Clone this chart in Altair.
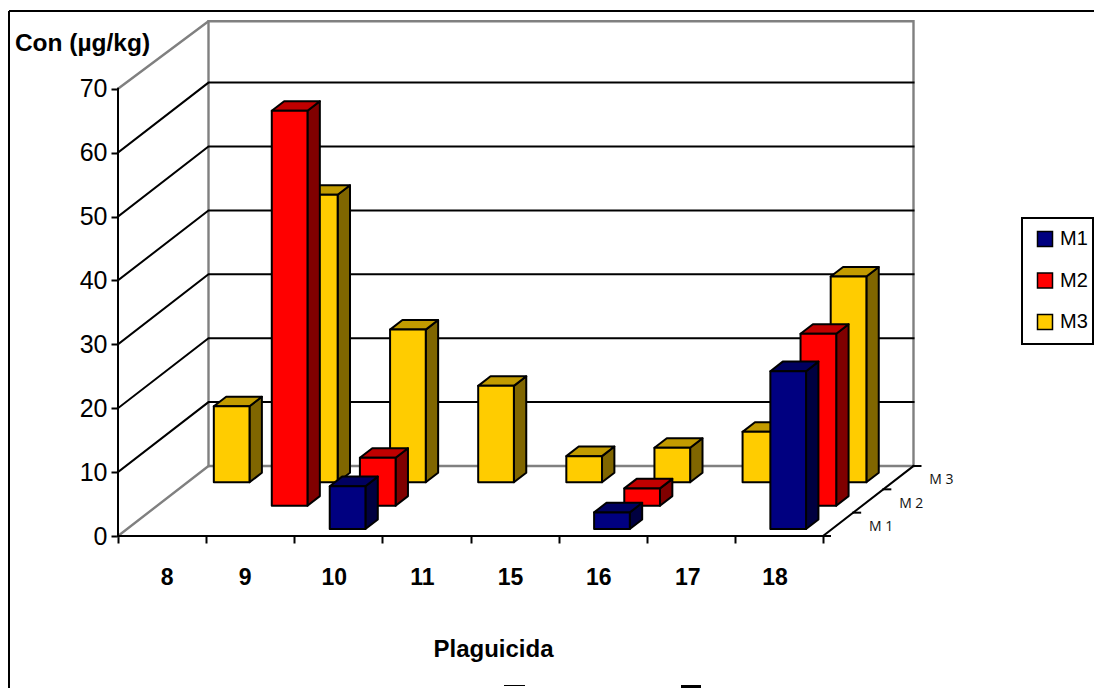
import altair as alt
import pandas as pd

categories = ["8", "9", "10", "11", "15", "16", "17", "18"]
series = ["M1", "M2", "M3"]
m1 = [None, None, 6.7, None, None, 2.6, None, 24.7]
m2 = [None, 61.8, 7.5, None, None, 2.7, None, 26.9]
m3 = [11.9, 45.0, 23.9, 15.1, 4.1, 5.4, 7.9, 32.2]
y_ticks = [0, 10, 20, 30, 40, 50, 60, 70]
label_nudge = [5, -5, -4, -4, -4, -4, -3, -4]
face_colors = {
    "M1": ("#000080", "#000060", "#000040"),
    "M2": ("#FF0000", "#C00000", "#800000"),
    "M3": ("#FFCC00", "#C29B00", "#806600"),
}

# projection constants
PXX, PXY = 88.125, 6.39
X0, Y0 = 118, 536
DX = 90.5 / PXX / 3
DY = 70 / PXY / 3
GAP, BW = 0.30, 0.405
DF, DW = 0.3, 0.41
WALL_TOP = 69.6
VIEW_L, VIEW_T = 9, 11
W, H = 1085, 677
xd = [(VIEW_L - X0) / PXX, (VIEW_L + W - X0) / PXX]
yd = [(Y0 - (VIEW_T + H)) / PXY, (Y0 - VIEW_T) / PXY]
xs = alt.Scale(domain=xd, nice=False, zero=False)
ys = alt.Scale(domain=yd, nice=False, zero=False)

faces = []
fid = 0


def add_face(color, pts):
    global fid
    for p in pts:
        faces.append({"id": fid, "fill": color, "x": p[0], "y": p[1], "y2": p[2]})
    fid += 1


for depth, (name, vals) in reversed(list(enumerate(zip(series, [m1, m2, m3])))):
    front, top_c, side = face_colors[name]
    for i, v in enumerate(vals):
        if v is None:
            continue
        x0 = i + GAP + (depth + DF) * DX
        x1 = x0 + BW
        b = (depth + DF) * DY
        t = b + v
        d_x, d_y = DW * DX, DW * DY
        add_face(side, [(x1, b, t), (x1 + d_x, b + d_y, t + d_y)])
        add_face(top_c, [(x0, t, t), (x0 + d_x, t, t + d_y), (x1, t, t + d_y), (x1 + d_x, t + d_y, t + d_y)])
        add_face(front, [(x0, b, t), (x1, b, t)])
faces = pd.DataFrame(faces)

# walls, grid and axis lines
lines = []
lid = 0


def add_line(group, pts):
    global lid
    for k, p in enumerate(pts):
        lines.append({"id": lid, "group": group, "k": k, "x": p[0], "y": p[1]})
    lid += 1


BX, BY = 3 * DX, 3 * DY
for v in y_ticks[1:-1]:
    add_line("grid", [(0, v), (BX, v + BY), (8 + BX, v + BY)])
add_line("wall", [(0, 70), (BX, WALL_TOP + BY), (8 + BX, WALL_TOP + BY), (8 + BX, BY), (BX, BY), (0, 0)])
add_line("wall", [(BX, WALL_TOP + BY), (BX, BY)])
add_line("axis", [(0, 0), (0, 70)])
add_line("axis", [(0, 0), (8, 0), (8 + BX, BY)])
for d in range(0, 4):
    add_line("axis", [(8 + d * DX, d * DY), (8 + d * DX + 7 / PXX, d * DY)])
lines = pd.DataFrame(lines)

base_axis = dict(grid=False, domain=False, tickColor="black", tickWidth=2, tickSize=7, tickRound=True)
xaxis = alt.Axis(values=list(range(9)), labels=False, offset=-(VIEW_T + H - Y0), title="Plaguicida",
                 titleFont="Liberation Sans", titleFontSize=24, titleFontWeight="bold", titleColor="black",
                 titleX=484, titleY=113, titleBaseline="middle", **base_axis)
yaxis = alt.Axis(values=y_ticks, offset=-(X0 - VIEW_L), title="Con (µg/kg)", titleAngle=0,
                 titleFont="Liberation Sans", titleFontSize=24.5, titleFontWeight="bold", titleColor="black",
                 titleX=-36, titleY=32, titleAlign="center", titleBaseline="middle",
                 labelFont="Liberation Sans", labelFontSize=25, labelColor="black", labelPadding=4, **base_axis)


def X():
    return alt.X("x:Q", scale=xs, axis=xaxis)


def Y():
    return alt.Y("y:Q", scale=ys, axis=yaxis)


def line_layer(group, color, width):
    return (
        alt.Chart(lines[lines.group == group])
        .mark_line(color=color, strokeWidth=width, strokeCap="square")
        .encode(X(), Y(), detail="id:N", order="k:Q")
    )


grid = line_layer("grid", "black", 2)
wall = line_layer("wall", "#808080", 2.4)
axl = line_layer("axis", "black", 2)

bars = (
    alt.Chart(faces)
    .mark_area(stroke="black", strokeWidth=2, strokeJoin="round", opacity=1)
    .encode(
        X(),
        Y(),
        alt.Y2("y2:Q"),
        alt.Fill("fill:N", scale=None),
        detail="id:N",
    )
)

cat_df = pd.DataFrame({
    "x": [i + 0.5 + n / PXX for i, n in enumerate(label_nudge)],
    "y": [-(578 - Y0) / PXY] * 8,
    "t": categories,
})
cat_labels = (
    alt.Chart(cat_df)
    .mark_text(font="Liberation Sans", fontSize=23, fontWeight="bold", color="black", baseline="middle")
    .encode(X(), Y(), text="t:N")
)

depth_df = pd.DataFrame({
    "x": [8 + (d + 0.5) * DX + 43 / PXX for d in range(3)],
    "y": [(d + 0.5) * DY - 0.42 for d in range(3)],
    "t": ["M 1", "M 2", "M 3"],
})
depth_labels = (
    alt.Chart(depth_df)
    .mark_text(font="Open Sans", fontSize=14, color="#111111", baseline="middle")
    .encode(X(), Y(), text="t:N")
)

legend_layer = (
    alt.Chart(pd.DataFrame({"s": series, "x": [0.0] * 3, "y": [0.0] * 3}))
    .mark_square(size=0, filled=True, stroke="black", strokeWidth=1.5, opacity=1)
    .encode(
        X(),
        Y(),
        alt.Color(
            "s:N",
            scale=alt.Scale(domain=series, range=[face_colors[s][0] for s in series]),
            legend=alt.Legend(
                title=None, orient="none", legendX=1022 - VIEW_L, legendY=219 - VIEW_T,
                padding=10,
                symbolType="square", symbolSize=225, symbolStrokeColor="black", symbolStrokeWidth=1.5,
                symbolOffset=3, labelFont="Liberation Sans", labelFontSize=20, labelColor="black",
                labelOffset=5, rowPadding=19.5,
            ),
        ),
    )
)

one = pd.DataFrame({"a": [0]})
legend_box = alt.Chart(one).mark_rect(filled=False, stroke="black", strokeWidth=2).encode(
    x=alt.value(1022 - VIEW_L), x2=alt.value(W - 1), y=alt.value(218 - VIEW_T), y2=alt.value(344 - VIEW_T))
border_top = alt.Chart(one).mark_rule(color="black", strokeWidth=2).encode(
    x=alt.value(0), x2=alt.value(W), y=alt.value(0))
border_left = alt.Chart(one).mark_rule(color="black", strokeWidth=2).encode(
    x=alt.value(0), y=alt.value(0), y2=alt.value(H))
stub1 = alt.Chart(one).mark_rule(color="black", strokeWidth=1).encode(
    x=alt.value(504 - VIEW_L), x2=alt.value(525 - VIEW_L), y=alt.value(685.5 - VIEW_T))
stub2 = alt.Chart(one).mark_rule(color="black", strokeWidth=3).encode(
    x=alt.value(681 - VIEW_L), x2=alt.value(701 - VIEW_L), y=alt.value(686.5 - VIEW_T))

chart = (
    alt.layer(wall, grid, axl, bars, cat_labels, depth_labels, legend_layer,
              legend_box, border_top, border_left, stub1, stub2)
    .properties(width=W, height=H, padding={"left": 1, "top": 3, "right": 0, "bottom": 0},
                autosize=alt.AutoSizeParams(type="none"), background="white")
    .configure_view(stroke=None)
)
chart.save("out.html", embed_options={"renderer": "svg", "actions": False})
